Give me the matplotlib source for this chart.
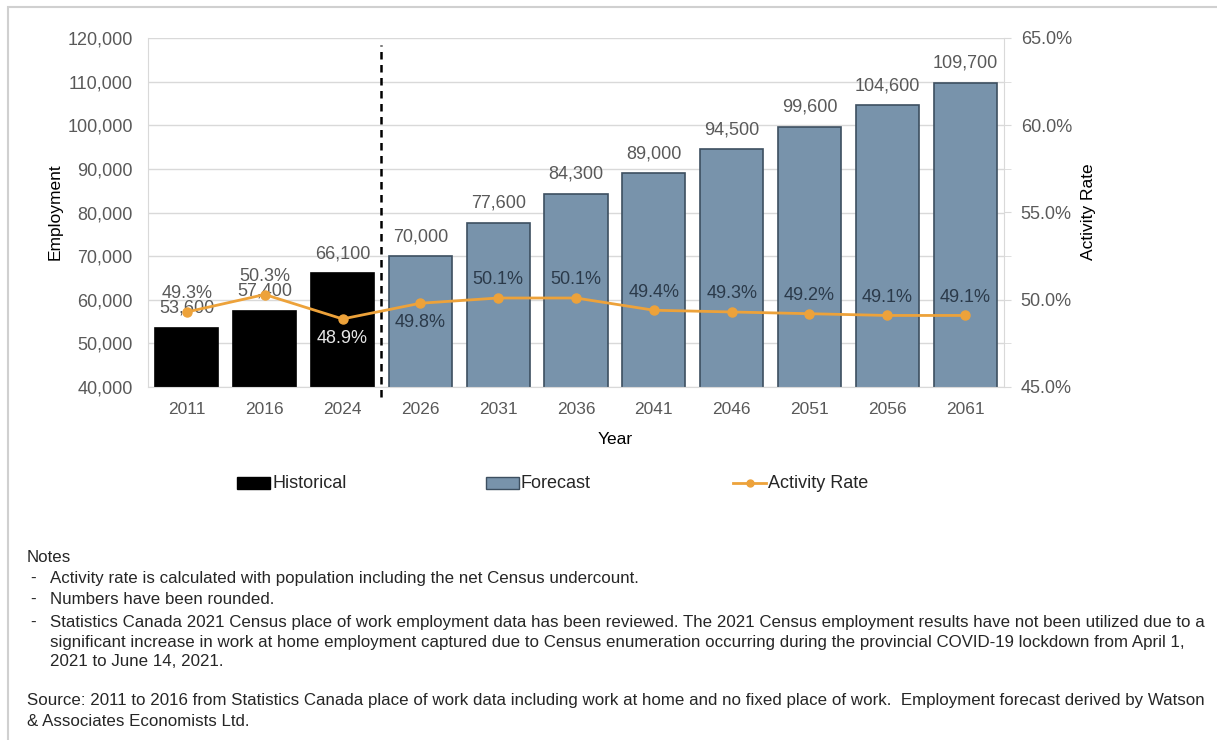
import matplotlib
matplotlib.use("Agg")
import matplotlib.pyplot as plt
from matplotlib.patches import Rectangle, Patch
from matplotlib.lines import Line2D
from matplotlib.ticker import FuncFormatter

years = ["2011", "2016", "2024", "2026", "2031", "2036", "2041", "2046", "2051", "2056", "2061"]
employment = [53600, 57400, 66100, 70000, 77600, 84300, 89000, 94500, 99600, 104600, 109700]
activity_rate = [49.3, 50.3, 48.9, 49.8, 50.1, 50.1, 49.4, 49.3, 49.2, 49.1, 49.1]
n_historical = 3
rate_label_pos = ["above", "above", "below", "below", "above", "above", "above", "above", "above", "above", "above"]

notes_lines = [
    "Activity rate is calculated with population including the net Census undercount.",
    "Numbers have been rounded.",
    "Statistics Canada 2021 Census place of work employment data has been reviewed. The 2021 Census employment results have not been utilized due to a",
    "significant increase in work at home employment captured due to Census enumeration occurring during the provincial COVID-19 lockdown from April 1,",
    "2021 to June 14, 2021.",
]
source_lines = [
    "Source: 2011 to 2016 from Statistics Canada place of work data including work at home and no fixed place of work.  Employment forecast derived by Watson",
    "& Associates Economists Ltd.",
]

plt.rcParams['font.family'] = ['Liberation Sans', 'DejaVu Sans']

W, H = 1217, 740
fig = plt.figure(figsize=(W / 100, H / 100), dpi=100)
fig.patch.set_facecolor("white")

def fx(px):
    return px / W

def fy(py):
    return 1 - py / H

# outer frame
fig.add_artist(Rectangle((fx(8), fy(745)), fx(1300), fy(7) - fy(745), transform=fig.transFigure,
                         fill=False, edgecolor="#d0d0d0", linewidth=1.5))

ax_l, ax_r, ax_t, ax_b = 148, 1004, 38, 387
ax = fig.add_axes([fx(ax_l), fy(ax_b), fx(ax_r - ax_l), fy(ax_t) - fy(ax_b)])
ax2 = ax.twinx()

grey_txt = "#595959"
bar_blue = "#7893ab"
bar_edge = "#3d4f60"
orange = "#eda23a"

x = list(range(len(years)))
colors = ["black" if i < n_historical else bar_blue for i in x]
edges = ["black" if i < n_historical else bar_edge for i in x]
bars = ax.bar(x, employment, width=0.81, color=colors, edgecolor=edges, linewidth=1.2, zorder=2)

ax.set_xlim(-0.5, len(years) - 0.5)
ax.set_ylim(40000, 120000)
ax.set_yticks(range(40000, 120001, 10000))
ax.yaxis.set_major_formatter(FuncFormatter(lambda v, p: f"{int(v):,}"))
ax.set_xticks(x)
ax.set_xticklabels(years)
ax.grid(axis="y", color="#d9d9d9", linewidth=1, zorder=0)
ax.set_axisbelow(True)
ax.tick_params(axis="x", length=0, labelsize=12.5, labelcolor=grey_txt, pad=11)
ax.tick_params(axis="y", length=0, labelsize=13, labelcolor=grey_txt, pad=11)
ax.spines["top"].set_visible(False)
for s in ["left", "bottom"]:
    ax.spines[s].set_color("#d9d9d9")
ax.spines["right"].set_visible(False)

for i, v in enumerate(employment):
    ax.annotate(f"{v:,}", (i, v), xytext=(0, 8), textcoords="offset points",
                ha="center", va="bottom", fontsize=13, color=grey_txt, zorder=5)

# divider
ax.axvline(n_historical - 0.5, ymin=-0.03, ymax=0.98, color="black", linestyle=(0, (3, 2.2)),
           linewidth=1.8, clip_on=False, zorder=4)

ax2.set_ylim(45, 65)
ax2.set_yticks([45, 50, 55, 60, 65])
ax2.yaxis.set_major_formatter(FuncFormatter(lambda v, p: f"{v:.1f}%"))
ax2.set_yticks([47.5, 52.5, 57.5, 62.5], minor=True)
ax2.tick_params(axis="y", which="major", length=5, color="#d9d9d9", labelsize=13, labelcolor=grey_txt, pad=7)
ax2.tick_params(axis="y", which="minor", length=5, color="#d9d9d9")
for s in ["top", "left", "bottom"]:
    ax2.spines[s].set_visible(False)
ax2.spines["right"].set_color("#d9d9d9")

ax2.plot(x, activity_rate, color=orange, linewidth=2, marker="o", markersize=6.5, zorder=6)
for i, (v, pos) in enumerate(zip(activity_rate, rate_label_pos)):
    if i < n_historical:
        col = grey_txt if pos == "above" else "#e6e6e6"
    else:
        col = "#2b3a4a"
    dy = 13 if pos == "above" else -14
    ax2.annotate(f"{v:.1f}%", (i, v), xytext=(0, dy), textcoords="offset points",
                 ha="center", va="center", fontsize=13, color=col, zorder=7)

fig.text(fx(55), fy(212), "Employment", rotation=90, ha="center", va="center", fontsize=12.5, color="black")
fig.text(fx(1088), fy(212), "Activity Rate", rotation=90, ha="center", va="center", fontsize=12.5, color="black")
fig.text(fx(615), fy(440), "Year", ha="center", va="center", fontsize=12.5, color="black")

# legend
labels = ["Historical", "Forecast", "Activity Rate"]
kinds = ["patch_hist", "patch_fc", "line"]
lx = [237, 486, 733]
for kind, lab, px in zip(kinds, labels, lx):
    if kind == "patch_hist":
        fig.add_artist(Rectangle((fx(px), fy(489)), fx(33), fy(477) - fy(489), transform=fig.transFigure,
                                 facecolor="black", edgecolor="black", linewidth=1))
    elif kind == "patch_fc":
        fig.add_artist(Rectangle((fx(px), fy(489)), fx(33), fy(477) - fy(489), transform=fig.transFigure,
                                 facecolor=bar_blue, edgecolor=bar_edge, linewidth=1))
    else:
        fig.add_artist(Line2D([fx(px), fx(px + 33)], [fy(483), fy(483)], transform=fig.transFigure,
                              color=orange, linewidth=2))
        fig.add_artist(Line2D([fx(px + 16.5)], [fy(483)], transform=fig.transFigure,
                              color=orange, marker="o", markersize=5))
    fig.text(fx(px + 35), fy(483), lab, ha="left", va="center", fontsize=13, color="#262626")

# notes
note_fs = 12.2
fig.text(fx(27), fy(558), "Notes", ha="left", va="center", fontsize=note_fs, color="#262626")
note_y = [578, 599, 622, 642, 662]
bullet_first = [True, True, True, False, False]
for t, yy, b in zip(notes_lines, note_y, bullet_first):
    if b:
        fig.text(fx(30), fy(yy), "-", ha="left", va="center", fontsize=note_fs, color="#262626")
    fig.text(fx(50), fy(yy), t, ha="left", va="center", fontsize=note_fs, color="#262626")
for t, yy in zip(source_lines, [701, 722]):
    fig.text(fx(27), fy(yy), t, ha="left", va="center", fontsize=note_fs, color="#262626")

fig.savefig("out.png", dpi=100)
